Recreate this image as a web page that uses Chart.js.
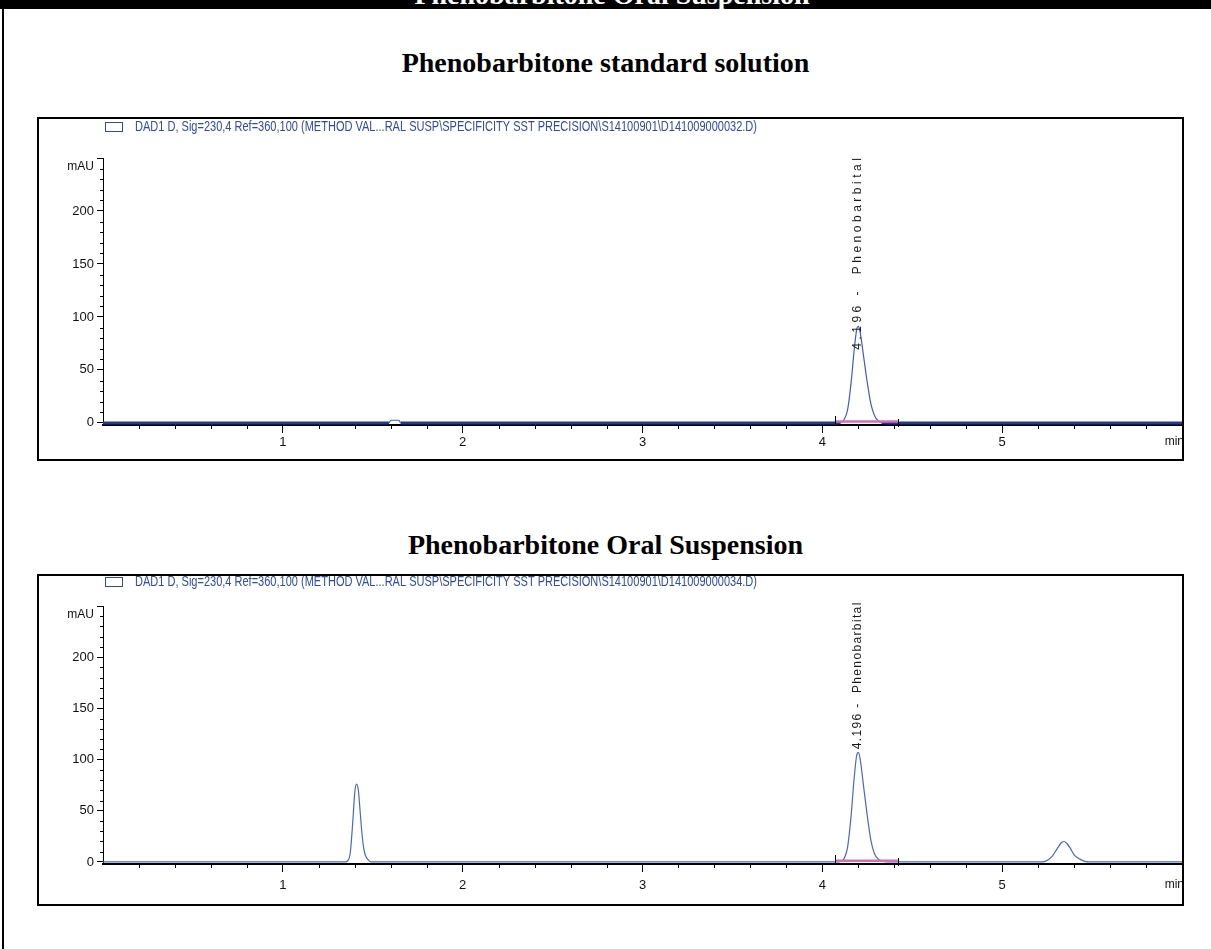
<!DOCTYPE html>
<html>
<head>
<meta charset="utf-8">
<title>Phenobarbitone Oral Suspension</title>
<script src="https://cdn.jsdelivr.net/npm/chart.js@4.4.1/dist/chart.umd.min.js"></script>
<style>
    html, body { margin: 0; padding: 0; background: #fff; }
    #page { position: relative; width: 1211px; height: 949px; overflow: hidden; background: #fff; }
    .topbar { position: absolute; left: 0; top: 0; width: 1211px; height: 9px; background: #000; overflow: hidden; }
    .topbar span { position: absolute; left: 0; top: -20px; width: 1224px; text-align: center; color: #fff;
        font: bold 28px 'Liberation Serif', 'Times New Roman', serif; line-height: 30px; white-space: nowrap; }
    .leftline { position: absolute; left: 2px; top: 0; width: 2px; height: 949px; background: #000; }
    .title { position: absolute; left: 0; width: 1211px; text-align: center; color: #000;
        font: bold 28px 'Liberation Serif', 'Times New Roman', serif; line-height: 30px; }
    .frame { position: absolute; border: 2px solid #000; box-sizing: border-box; pointer-events: none; }
    canvas { position: absolute; }
</style>
</head>
<body>
<div id="page">
    <div class="topbar"><span>Phenobarbitone Oral Suspension</span></div>
    <div class="leftline"></div>

    <div class="title" style="top:48px;">Phenobarbitone standard solution</div>
    <canvas id="stdChart" width="1146" height="343" style="left:38px; top:118px;"></canvas>
    <div class="frame" style="left:37px; top:117px; width:1147px; height:344px;"></div>

    <div class="title" style="top:530px;">Phenobarbitone Oral Suspension</div>
    <canvas id="sampleChart" width="1146" height="331" style="left:38px; top:575px;"></canvas>
    <div class="frame" style="left:37px; top:574px; width:1147px; height:332px;"></div>
</div>

<script>
// ---- データ ----

// 軸の目盛ラベル
const xMajorTicks = [1, 2, 3, 4, 5];
const yMajorTicks = [0, 50, 100, 150, 200];

// 標準溶液のクロマトグラム（時間 min / 吸光度 mAU）
const stdTime   = [0, 1.59, 1.60, 1.645, 1.655, 4.08, 4.10, 4.12, 4.14, 4.16, 4.175, 4.19, 4.20, 4.21, 4.23, 4.25, 4.27, 4.29, 4.31, 4.33, 4.36, 6.0];
const stdSignal = [0, 0,    2.5,  2.5,   0,     0,    0.5,  3,    12,   38,   65,    87,   91,   86,   62,   38,   18,   7,    2,    0.5,  0,    0];

// 経口懸濁液のクロマトグラム
const sampleTime   = [0, 1.34, 1.36, 1.375, 1.39, 1.40, 1.41, 1.42, 1.43, 1.44, 1.45, 1.46, 1.475, 1.49,
                      4.08, 4.10, 4.12, 4.14, 4.16, 4.175, 4.19, 4.20, 4.21, 4.23, 4.25, 4.27, 4.29, 4.31, 4.33, 4.36,
                      5.22, 5.25, 5.28, 5.31, 5.33, 5.345, 5.36, 5.38, 5.40, 5.42, 5.44, 5.46, 5.48, 6.0];
const sampleSignal = [0, 0,    1,    9,     42,   68,   76,   70,   49,   28,   13,   6,    2,     0,
                      0,    0.5,  3,    14,   45,   78,    103,  107,  101,  73,   45,   21,   8,    3,    1,    0,
                      0,    1.5,  6,    14,   19,   20,    18,   13,   7,    4,    2,    0.5,  0,    0];

// ピーク情報と積分範囲
const peakTime = 4.196;
const peakName = 'Phenobarbital';
const stdIntegration = [4.07, 4.42];
const sampleIntegration = [4.07, 4.42];

// 凡例テキスト
const stdLegend = 'DAD1 D, Sig=230,4 Ref=360,100 (METHOD VAL...RAL SUSP\\SPECIFICITY SST PRECISION\\S14100901\\D141009000032.D)';
const sampleLegend = 'DAD1 D, Sig=230,4 Ref=360,100 (METHOD VAL...RAL SUSP\\SPECIFICITY SST PRECISION\\S14100901\\D141009000034.D)';

const NARROW = '"Liberation Sans Narrow", "Arial Narrow", "Liberation Sans", sans-serif';

/**
 * 目盛・凡例・ピークラベルなどの装飾を描画
 */
const chromDecorPlugin = {
    id: 'chromDecor',
    afterDraw(chart, args, opts) {
        const ctx = chart.ctx;
        const xs = chart.scales.x;
        const ys = chart.scales.y;
        const axisX = xs.left;
        const axisY = ys.bottom;

        ctx.save();
        ctx.strokeStyle = '#000';
        ctx.lineWidth = 1;

        // Y軸の補助目盛（10 mAUごと）
        ctx.beginPath();
        for (let v = 0; v <= 250; v += 10) {
            if (yMajorTicks.includes(v)) continue;
            const py = Math.round(ys.getPixelForValue(v)) + 0.5;
            const len = v === 250 ? 6 : 3;
            ctx.moveTo(axisX - len, py);
            ctx.lineTo(axisX, py);
        }
        // X軸の補助目盛（0.2 minごと）
        for (let i = 1; i < 30; i++) {
            if (i % 5 === 0) continue;
            const px = Math.round(xs.getPixelForValue(i / 5)) + 0.5;
            ctx.moveTo(px, axisY);
            ctx.lineTo(px, axisY + 4);
        }
        ctx.stroke();

        // 軸の単位
        ctx.fillStyle = '#111';
        ctx.font = '12px ' + NARROW;
        ctx.textAlign = 'right';
        ctx.textBaseline = 'middle';
        ctx.fillText('mAU', axisX - 9, ys.getPixelForValue(opts.unitAt));
        ctx.fillText('min', chart.width, axisY + opts.minOffset);

        // 積分範囲の境界マーク
        const base = Math.round(ys.getPixelForValue(0));
        const s = Math.round(xs.getPixelForValue(opts.integration[0])) + 0.5;
        const e = Math.round(xs.getPixelForValue(opts.integration[1])) + 0.5;
        ctx.beginPath();
        ctx.moveTo(s, base + 1);
        ctx.lineTo(s, base - 7);
        ctx.moveTo(e, base - 4);
        ctx.lineTo(e, base + 4);
        ctx.stroke();

        // 凡例
        ctx.strokeStyle = '#2f4aa8';
        ctx.strokeRect(67.5, opts.legendY - 4.5, 17, 9);
        ctx.fillStyle = '#2f4aa8';
        ctx.font = '14px ' + NARROW;
        ctx.textAlign = 'left';
        const lw = ctx.measureText(opts.legend).width;
        ctx.save();
        ctx.translate(97, opts.legendY);
        ctx.scale(622 / lw, 1);
        ctx.fillText(opts.legend, 0, 0);
        ctx.restore();

        // ピークラベル（縦書き）
        const label = peakTime.toFixed(3) + ' -  ' + peakName;
        ctx.font = '12px "Liberation Sans", Arial, sans-serif';
        ctx.fillStyle = '#1a1a1a';
        const natural = ctx.measureText(label).width;
        ctx.letterSpacing = ((opts.labelLength - natural) / label.length).toFixed(2) + 'px';
        ctx.translate(xs.getPixelForValue(peakTime), ys.getPixelForValue(opts.labelAt));
        ctx.rotate(-Math.PI / 2);
        ctx.textBaseline = 'middle';
        ctx.fillText(label, 0, 0);
        ctx.restore();
    }
};

function buildChart(id, time, signal, cfg) {
    const canvas = document.getElementById(id);
    const trace = time.map((t, i) => ({ x: t, y: signal[i] }));
    const integ = cfg.integration.map(t => ({ x: t, y: 1.2 }));
    const tickFont = { family: NARROW, size: 13 };

    return new Chart(canvas, {
        type: 'line',
        data: {
            datasets: [
                {
                    data: integ,
                    borderColor: '#d46fb6',
                    borderWidth: 2.5,
                    pointRadius: 0,
                    order: 0
                },
                {
                    data: trace,
                    borderColor: cfg.traceColor,
                    borderWidth: 1.2,
                    pointRadius: 0,
                    cubicInterpolationMode: 'monotone',
                    segment: {
                        borderWidth: c => (cfg.thickBase && c.p0.parsed.y < 1 && c.p1.parsed.y < 1) ? 3 : 1.2,
                        borderColor: c => (cfg.thickBase && c.p0.parsed.y < 1 && c.p1.parsed.y < 1) ? '#24388f' : cfg.traceColor
                    },
                    order: 1
                }
            ]
        },
        options: {
            responsive: false,
            animation: false,
            events: [],
            layout: { padding: { top: cfg.padTop, right: 2, left: 0, bottom: 0 } },
            plugins: {
                legend: { display: false },
                tooltip: { enabled: false },
                chromDecor: {
                    legend: cfg.legend,
                    legendY: cfg.legendY,
                    integration: cfg.integration,
                    labelAt: cfg.labelAt,
                    labelLength: cfg.labelLength,
                    unitAt: 242,
                    minOffset: cfg.xLabelOffset
                }
            },
            scales: {
                x: {
                    type: 'linear',
                    min: 0,
                    max: 6,
                    grid: { drawOnChartArea: false, drawTicks: true, tickLength: 8, tickColor: '#000', color: '#000' },
                    border: { display: true, color: '#000', width: 2 },
                    ticks: { padding: cfg.xPad, font: tickFont, color: '#111', autoSkip: false, maxRotation: 0 },
                    afterBuildTicks: s => { s.ticks = xMajorTicks.map(v => ({ value: v })); },
                    afterFit: s => { s.height = cfg.xHeight; }
                },
                y: {
                    min: -2,
                    max: 250,
                    grid: { drawOnChartArea: false, drawTicks: true, tickLength: 6, tickColor: '#000', color: '#000' },
                    border: { display: true, color: '#000', width: 1 },
                    ticks: { padding: 3, font: tickFont, color: '#111', autoSkip: false },
                    afterBuildTicks: s => { s.ticks = yMajorTicks.map(v => ({ value: v })); },
                    afterFit: s => { s.width = 65; }
                }
            }
        },
        plugins: [chromDecorPlugin]
    });
}

buildChart('stdChart', stdTime, stdSignal, {
    legend: stdLegend,
    legendY: 9,
    integration: stdIntegration,
    traceColor: '#3f5dbf',
    thickBase: true,
    padTop: 40,
    xHeight: 36,
    xPad: 2,
    xLabelOffset: 17,
    labelAt: 69,
    labelLength: 195
});

buildChart('sampleChart', sampleTime, sampleSignal, {
    legend: sampleLegend,
    legendY: 7,
    integration: sampleIntegration,
    traceColor: '#4a67c4',
    thickBase: false,
    padTop: 31,
    xHeight: 42,
    xPad: 6,
    xLabelOffset: 21,
    labelAt: 110,
    labelLength: 148
});
</script>
</body>
</html>
